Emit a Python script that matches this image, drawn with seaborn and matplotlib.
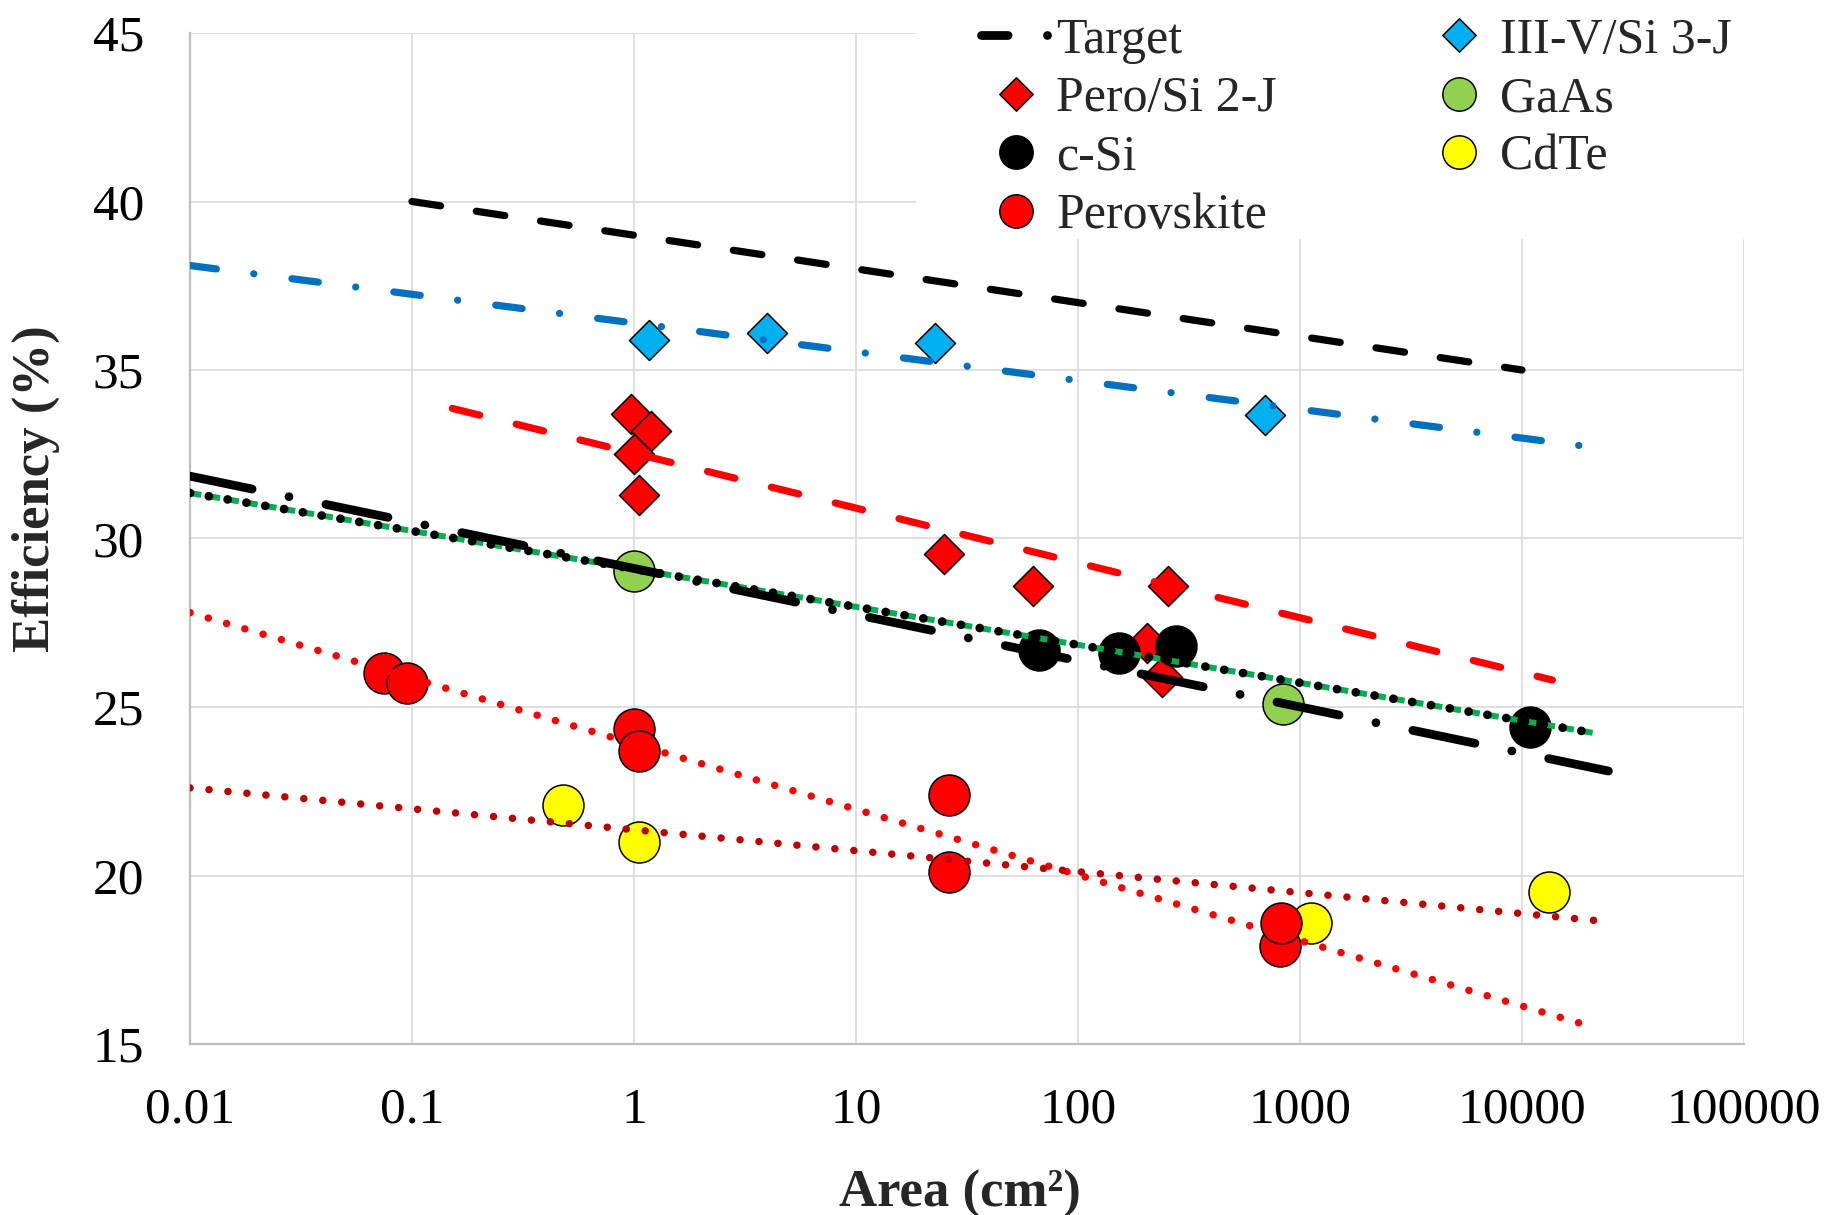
import numpy as np
import pandas as pd
import matplotlib
matplotlib.use("Agg")
import matplotlib.pyplot as plt
from matplotlib.path import Path
from matplotlib.lines import Line2D
from matplotlib.patches import Rectangle
from matplotlib.ticker import FixedLocator, MultipleLocator, LogLocator, NullFormatter
import seaborn as sns

# ---- record cells: area (cm^2) and efficiency (%) ----
iiiv_si_area = [1.17, 3.96, 22.7, 698]
iiiv_si_eff = [35.9, 36.1, 35.8, 33.65]

pero_si_area = [0.97, 1.19, 1.0, 1.05, 25.0, 62.7, 255, 205, 238]
pero_si_eff = [33.7, 33.2, 32.5, 31.3, 29.55, 28.6, 28.6, 26.9, 25.9]

csi_area = [66.6, 153, 275, 10900]
csi_eff = [26.7, 26.6, 26.8, 24.4]

perovskite_area = [0.0746, 0.095, 1.0, 1.05, 26.2, 26.2, 810, 817]
perovskite_eff = [26.0, 25.7, 24.35, 23.7, 22.4, 20.1, 17.9, 18.6]

gaas_area = [1.0, 837]
gaas_eff = [29.05, 25.1]

cdte_area = [0.48, 1.05, 1120, 13240]
cdte_eff = [22.1, 21.0, 18.6, 19.5]

# ---- logarithmic trend lines (end points) ----
target_area = [0.1, 10000]
target_eff = [40.0, 35.0]

iiiv_trend_area = [0.01, 18600]
iiiv_trend_eff = [38.1, 32.75]

pero_si_trend_area = [0.152, 13700]
pero_si_trend_eff = [33.86, 25.8]

csi_dashdot_area = [0.01, 24500]
csi_dashdot_eff = [31.85, 23.1]

csi_trend_area = [0.01, 22300]
csi_trend_eff = [31.35, 24.2]

gaas_trend_area = [0.01, 22300]
gaas_trend_eff = [31.35, 24.2]

perovskite_trend_area = [0.01, 21000]
perovskite_trend_eff = [27.8, 15.5]

cdte_trend_area = [0.01, 21000]
cdte_trend_eff = [22.6, 18.67]

x_ticks = [0.01, 0.1, 1, 10, 100, 1000, 10000, 100000]
x_tick_labels = ["0.01", "0.1", "1", "10", "100", "1000", "10000", "100000"]
y_ticks = [15, 20, 25, 30, 35, 40, 45]

sns.set_style("white")
plt.rcParams["font.family"] = ["Liberation Serif", "DejaVu Serif"]

# marker shapes
diamond = Path([(0, 1), (1, 0), (0, -1), (-1, 0), (0, 1)],
               [Path.MOVETO, Path.LINETO, Path.LINETO, Path.LINETO, Path.CLOSEPOLY])

fig = plt.figure(figsize=(18.29, 12.15), dpi=100)
ax = fig.add_axes([190 / 1829, 171 / 1215, 1554 / 1829, 1011 / 1215])

series = [
    ("III-V/Si 3-J", iiiv_si_area, iiiv_si_eff, diamond, "#00B0F0", 830),
    ("CdTe", cdte_area, cdte_eff, "o", "#FFFF00", 870),
    ("GaAs", gaas_area, gaas_eff, "o", "#92D050", 870),
    ("Pero/Si 2-J", pero_si_area, pero_si_eff, diamond, "#FF0000", 830),
    ("c-Si", csi_area, csi_eff, "o", "#000000", 870),
    ("Perovskite", perovskite_area, perovskite_eff, "o", "#FF0000", 870),
]

for name, xs, ys, mk, col, size in series:
    df = pd.DataFrame({"area": xs, "eff": ys})
    sns.scatterplot(data=df, x="area", y="eff", ax=ax, marker=mk, color=col,
                    s=size, edgecolor="black", linewidth=1.1, zorder=2,
                    legend=False)

lw_dash = 5.2
ax.plot(target_area, target_eff, color="black", lw=lw_dash,
        dashes=(4.0, 5.0), dash_capstyle="round", zorder=3)
ax.plot(iiiv_trend_area, iiiv_trend_eff, color="#0070C0", lw=lw_dash,
        dashes=(3.68, 5.22, 0.01, 5.32), dash_capstyle="round", zorder=3)
ax.plot(pero_si_trend_area, pero_si_trend_eff, color="#FF0000", lw=lw_dash,
        dashes=(3.9, 5.2), dash_capstyle="round", zorder=3)
ax.plot(gaas_trend_area, gaas_trend_eff, color="#00B050", lw=4.3,
        dashes=(1.909, 1.285), dash_capstyle="butt", zorder=3)
ax.plot(csi_trend_area, csi_trend_eff, color="black", lw=6.3,
        dashes=(0.01, 2.17), dash_capstyle="round", zorder=3)
ax.plot(csi_dashdot_area, csi_dashdot_eff, color="black", lw=6.3,
        dashes=(7.25, 4.3, 0.01, 4.3), dash_capstyle="round", zorder=3)
ax.plot(perovskite_trend_area, perovskite_trend_eff, color="#FF0000", lw=5.4,
        dashes=(0.01, 2.53), dash_capstyle="round", zorder=3)
ax.plot(cdte_trend_area, cdte_trend_eff, color="#C00000", lw=5.4,
        dashes=(0.01, 2.53), dash_capstyle="round", zorder=3)

# axes
ax.set_xscale("log")
ax.set_xlim(x_ticks[0], x_ticks[-1])
ax.set_ylim(y_ticks[0], y_ticks[-1])
ax.xaxis.set_major_locator(FixedLocator(x_ticks))
ax.set_xticklabels(x_tick_labels)
ax.xaxis.set_minor_locator(LogLocator(base=10, subs=np.arange(2, 10), numticks=20))
ax.xaxis.set_minor_formatter(NullFormatter())
ax.set_yticks(y_ticks)
ax.yaxis.set_minor_locator(MultipleLocator(1))

ax.set_axisbelow(True)
ax.grid(True, which="major", color="#D9D9D9", lw=1.2)
for side in ("top", "right"):
    ax.spines[side].set_visible(False)
for side in ("left", "bottom"):
    ax.spines[side].set_color("#BFBFBF")
    ax.spines[side].set_linewidth(1.6)

ax.tick_params(axis="both", which="both", direction="in", color="#BFBFBF",
               width=1.3, labelsize=37, labelcolor="black")
ax.tick_params(axis="y", which="major", length=11, pad=33)
ax.tick_params(axis="y", which="minor", length=8.5)
ax.tick_params(axis="x", which="major", length=11, pad=31)
ax.tick_params(axis="x", which="minor", length=7)

ax.set_xlabel("Area (cm²)", fontsize=38, fontweight="bold")
ax.set_ylabel("Efficiency (%)", fontsize=38, fontweight="bold")
ax.xaxis.set_label_coords(0.4955, -0.1246)
ax.yaxis.set_label_coords(-0.0836, 0.549)

# white panel behind the legend
fig.patches.append(Rectangle((916 / 1829, (1215 - 239) / 1215), 1 - 916 / 1829,
                             239 / 1215, transform=fig.transFigure,
                             facecolor="white", edgecolor="none", zorder=1))

leg_ms = 24
handles = [
    Line2D([], [], color="black", lw=6.3, dashes=(3.04, 4.5, 0.01, 10),
           dash_capstyle="round"),
    Line2D([], [], ls="none", marker=diamond, markersize=leg_ms,
           mfc="#FF0000", mec="black", mew=1.1),
    Line2D([], [], ls="none", marker="o", markersize=leg_ms,
           mfc="#000000", mec="black", mew=1.1),
    Line2D([], [], ls="none", marker="o", markersize=leg_ms,
           mfc="#FF0000", mec="black", mew=1.1),
    Line2D([], [], ls="none", marker=diamond, markersize=leg_ms,
           mfc="#00B0F0", mec="black", mew=1.1),
    Line2D([], [], ls="none", marker="o", markersize=leg_ms,
           mfc="#92D050", mec="black", mew=1.1),
    Line2D([], [], ls="none", marker="o", markersize=leg_ms,
           mfc="#FFFF00", mec="black", mew=1.1),
]
labels = ["Target", "Pero/Si 2-J", "c-Si", "Perovskite",
          "III-V/Si 3-J", "GaAs", "CdTe"]
leg_fs = 36
leg = fig.legend(handles, labels, ncol=2, loc="upper left",
                 bbox_to_anchor=(981 / 1829, 1 - 17 / 1215),
                 frameon=False, fontsize=leg_fs, borderpad=0, borderaxespad=0,
                 handlelength=1.38, handletextpad=0.13, columnspacing=2.95,
                 labelspacing=0.24)
leg.set_zorder(5)

fig.savefig("out.png", dpi=100)
